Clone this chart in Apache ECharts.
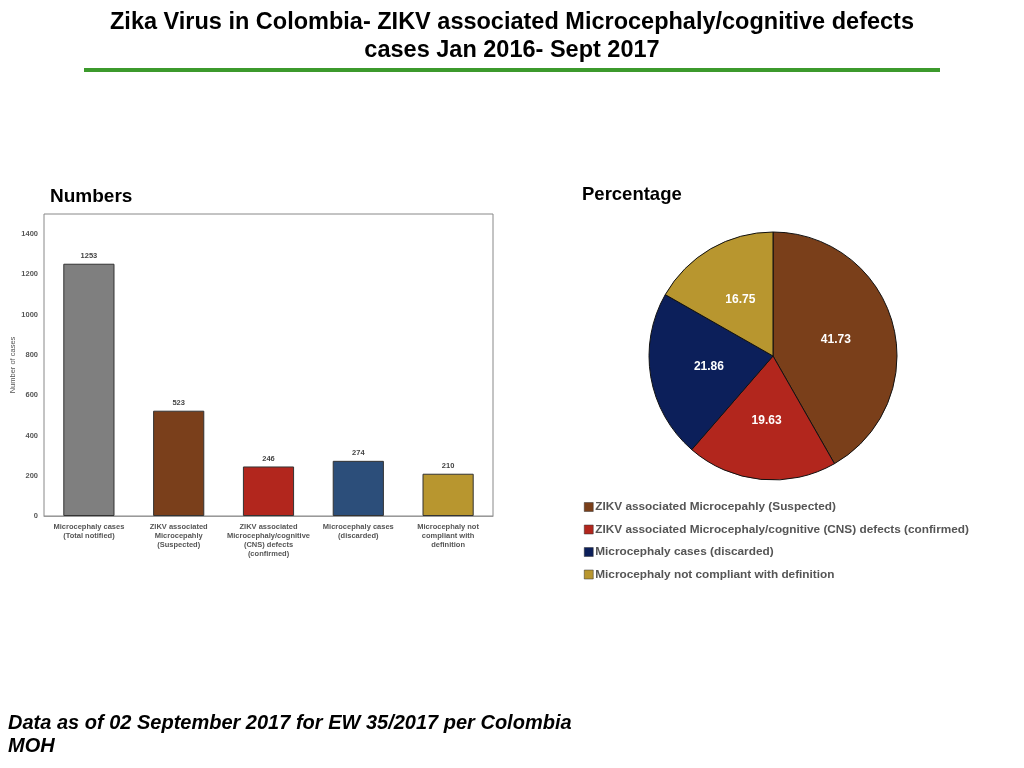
<!DOCTYPE html>
<html>
<head>
<meta charset="utf-8">
<script src="https://cdn.jsdelivr.net/npm/echarts@6/dist/echarts.min.js"></script>
<style>
  html, body { margin: 0; padding: 0; background: #fff; }
  #chart { width: 1024px; height: 768px; }
</style>
</head>
<body>
<div id="chart"></div>
<script>
const barCategories = [
  "Microcephaly cases\n(Total notified)",
  "ZIKV associated\nMicrocepahly\n(Suspected)",
  "ZIKV associated\nMicrocephaly/cognitive\n(CNS) defects\n(confirmed)",
  "Microcephaly cases\n(discarded)",
  "Microcephaly not\ncompliant with\ndefinition"
];
const barValues = [1253, 523, 246, 274, 210];
const barColors = ["#7f7f7f", "#7a3f1b", "#b2261d", "#2c4e7a", "#b8962f"];

const pieNames = [
  "ZIKV associated Microcepahly (Suspected)",
  "ZIKV associated Microcephaly/cognitive (CNS) defects (confirmed)",
  "Microcephaly cases (discarded)",
  "Microcephaly not compliant with definition"
];
const pieValues = [41.73, 19.63, 21.86, 16.75];
const pieColors = ["#7a3f1a", "#b2261d", "#0c1f5a", "#b8962f"];

const chart = echarts.init(document.getElementById("chart"));

const font = "'Liberation Sans', Arial, sans-serif";

chart.setOption({
  animation: false,
  textStyle: { fontFamily: font },
  title: [
    {
      text: "Zika Virus in Colombia- ZIKV associated Microcephaly/cognitive defects\ncases Jan 2016- Sept 2017",
      left: "center",
      top: 4,
      textStyle: {
        fontSize: 23.5, fontWeight: "bold", color: "#000", lineHeight: 28
      }
    },
    {
      text: "Numbers", left: 45, top: 182,
      textStyle: { fontSize: 19, fontWeight: "bold", color: "#000" }
    },
    {
      text: "Percentage", left: 577, top: 180,
      textStyle: { fontSize: 18.5, fontWeight: "bold", color: "#000" }
    },
    {
      text: "Data as of 02 September 2017 for EW 35/2017 per Colombia\nMOH",
      left: 3, top: 707,
      textStyle: {
        fontSize: 20, fontWeight: "bold", fontStyle: "italic",
        color: "#000", lineHeight: 23
      }
    }
  ],
  graphic: [
    {
      type: "rect",
      shape: { x: 84, y: 68, width: 856, height: 4 },
      style: { fill: "#3c9a2c" }
    }
  ],
  grid: {
    left: 44, top: 214, width: 449, height: 302,
    show: true, borderColor: "#888", borderWidth: 1
  },
  xAxis: {
    type: "category",
    data: barCategories,
    axisTick: { show: false },
    axisLine: { lineStyle: { color: "#999" } },
    axisLabel: {
      interval: 0, fontSize: 7.5, fontWeight: "bold", color: "#555",
      lineHeight: 9, margin: 6
    }
  },
  yAxis: {
    type: "value",
    min: 0, max: 1500, interval: 200,
    name: "Number of cases",
    nameLocation: "middle",
    nameGap: 25,
    nameTextStyle: { fontSize: 7.5, color: "#555" },
    splitLine: { show: false },
    axisLine: { show: false },
    axisTick: { show: false },
    axisLabel: {
      fontSize: 7.5, fontWeight: "bold", color: "#555", margin: 6,
      formatter: v => (v > 1400 ? "" : v)
    }
  },
  legend: {
    data: pieNames,
    orient: "vertical",
    left: 579, top: 496,
    itemWidth: 9, itemHeight: 9, itemGap: 10.5,
    icon: "rect",
    textStyle: { fontSize: 11.8, fontWeight: "bold", color: "#555", padding: [0, 0, 0, -3] },
    itemStyle: { borderColor: "#333", borderWidth: 0.5 }
  },
  series: [
    {
      type: "bar",
      barWidth: "57%",
      data: barValues.map((v, i) => ({
        value: v,
        itemStyle: { color: barColors[i], borderColor: "#333", borderWidth: 1 }
      })),
      label: {
        show: true, position: "top", distance: 4,
        fontSize: 7.5, fontWeight: "bold", color: "#444"
      }
    },
    {
      type: "pie",
      center: [773, 356],
      radius: 124,
      startAngle: 90,
      clockwise: true,
      data: pieNames.map((n, i) => ({
        name: n, value: pieValues[i],
        itemStyle: { color: pieColors[i] }
      })),
      itemStyle: { borderColor: "#111", borderWidth: 1 },
      label: {
        show: true, position: "inside",
        formatter: p => p.value.toFixed(2),
        fontSize: 12, fontWeight: "bold", color: "#fff"
      },
      labelLine: { show: false }
    }
  ]
});
</script>
</body>
</html>
